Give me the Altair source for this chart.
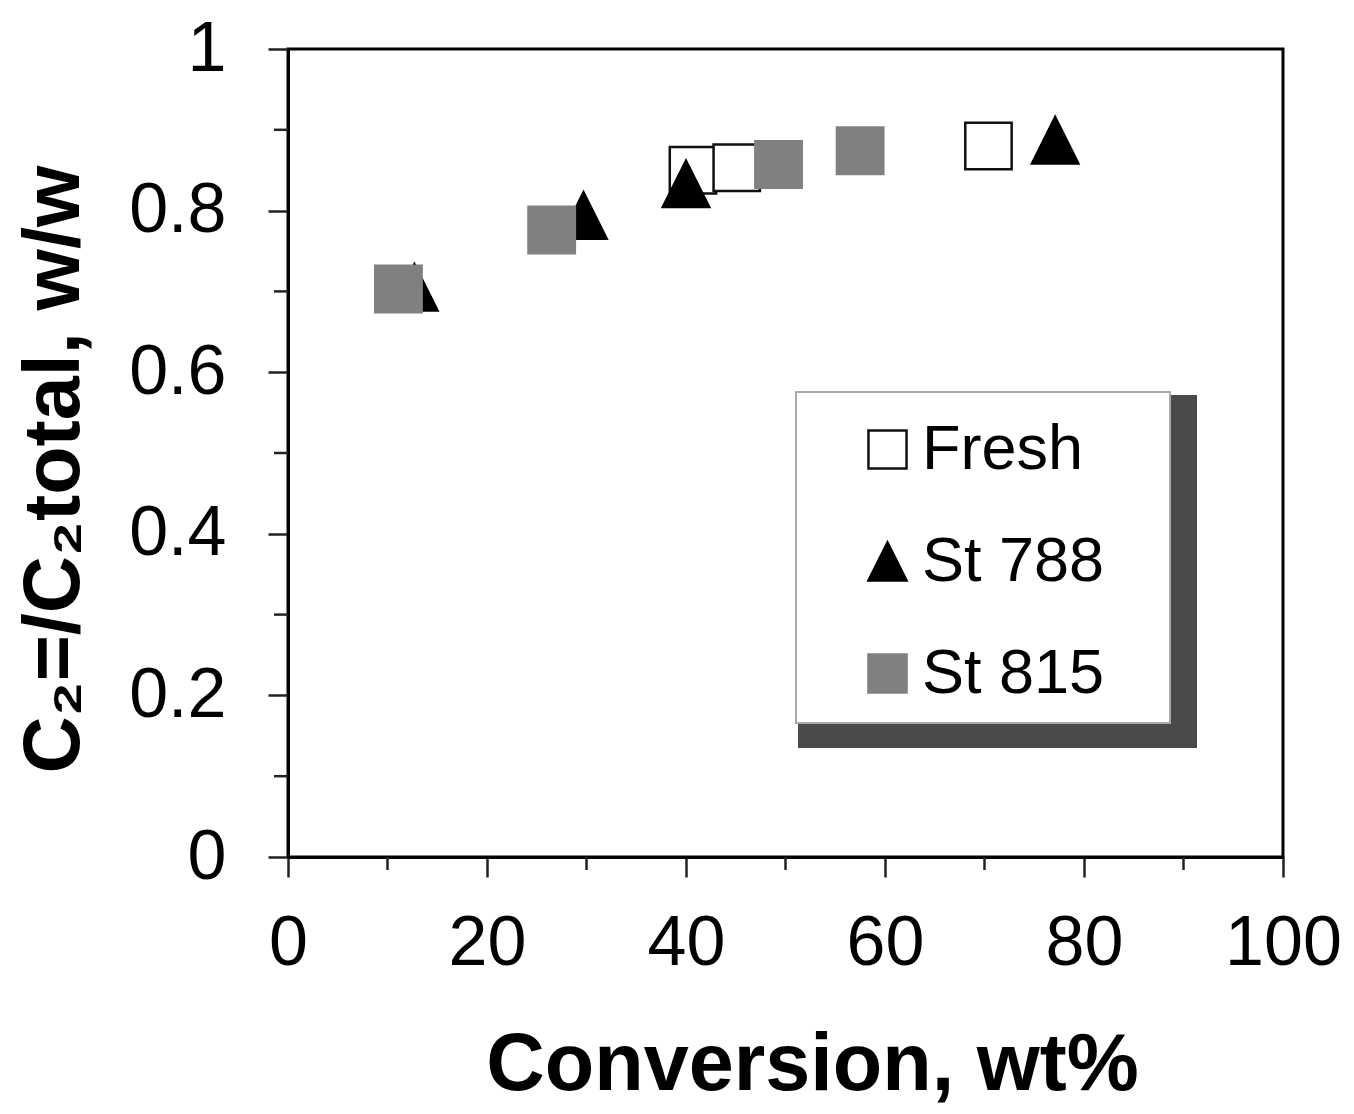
import altair as alt
import pandas as pd

# ---- data ----
series_names = ["Fresh", "St 788", "St 815"]
fresh_x = [40.7, 45.1, 70.4]
fresh_y = [0.850, 0.853, 0.880]
st788_x = [12.7, 29.7, 40.0, 77.1]
st788_y = [0.705, 0.794, 0.833, 0.887]
st815_x = [11.1, 26.5, 49.3, 57.5]
st815_y = [0.703, 0.776, 0.857, 0.874]

x_major = [0, 20, 40, 60, 80, 100]
x_minor = [10, 30, 50, 70, 90]
y_major = [0, 0.2, 0.4, 0.6, 0.8, 1]
y_minor = [0.1, 0.3, 0.5, 0.7, 0.9]

rows = []
for name, xs, ys in zip(series_names, [fresh_x, st788_x, st815_x], [fresh_y, st788_y, st815_y]):
    for a, b in zip(xs, ys):
        rows.append({"series": name, "x": a, "y": b})
df = pd.DataFrame(rows)

W, H = 995, 808
FONT = "Liberation Sans"
TRI = "M0,-1L1,1L-1,1Z"

xscale = alt.Scale(domain=[0, 100], nice=False, zero=False)
yscale = alt.Scale(domain=[0, 1], nice=False, zero=False)

legend = alt.Legend(
    title=None, orient="none", legendX=568, legendY=369,
    labelFontSize=63, labelFont=FONT, labelColor="black", labelLimit=500,
    symbolSize=1450, symbolStrokeWidth=2.5, labelOffset=3,
    padding=0, rowPadding=48, symbolOpacity=1,
)

xaxis = alt.Axis(
    values=x_major, tickSize=20, tickWidth=2.5, tickColor="#222",
    labelFontSize=70, labelFont=FONT, labelColor="black", labelPadding=32,
    labelFlush=False, labelOverlap=False,
    domainColor="black", domainWidth=3, grid=False,
    title="Conversion, wt%", titleFont=FONT, titleFontSize=81, titleFontWeight="bold",
    titleColor="black", titleX=524, titleY=232, titleBaseline="alphabetic", titleAlign="center",
)
yaxis = alt.Axis(
    values=y_major, format="~g", tickSize=20, tickWidth=2.5, tickColor="#222",
    labelFontSize=70, labelFont=FONT, labelColor="black", labelPadding=42,
    labelFlush=False, labelOverlap=False,
    domainColor="black", domainWidth=3, grid=False,
    title="C\u2082=/C\u2082total, w/w", titleFont=FONT, titleFontSize=79, titleFontWeight="bold",
    titleColor="black", titleX=-210, titleY=420, titleBaseline="alphabetic", titleAlign="center",
    titleAngle=270,
)

one = pd.DataFrame({"a": [0]})

shadow = alt.Chart(one).mark_rect(color="#4a4a4a").encode(
    x=alt.value(510), x2=alt.value(909), y=alt.value(346), y2=alt.value(699)
)
box = alt.Chart(one).mark_rect(fill="white", stroke="#aaaaaa", strokeWidth=2).encode(
    x=alt.value(508), x2=alt.value(882), y=alt.value(343), y2=alt.value(674)
)

xminor = alt.Chart(pd.DataFrame({"x": x_minor})).mark_rule(color="#222", strokeWidth=2.5).encode(
    x=alt.X("x:Q", scale=xscale, axis=xaxis), y=alt.value(H), y2=alt.value(H + 13)
)
yminor = alt.Chart(pd.DataFrame({"y": y_minor})).mark_rule(color="#222", strokeWidth=2.5).encode(
    y=alt.Y("y:Q", scale=yscale, axis=yaxis), x=alt.value(0), x2=alt.value(-14)
)

points = alt.Chart(df).mark_point(filled=True, size=2150, strokeWidth=2.5, opacity=1).encode(
    x=alt.X("x:Q", scale=xscale, axis=xaxis),
    y=alt.Y("y:Q", scale=yscale, axis=yaxis),
    shape=alt.Shape("series:N", scale=alt.Scale(domain=series_names, range=["square", TRI, "square"]), legend=legend),
    fill=alt.Fill("series:N", scale=alt.Scale(domain=series_names, range=["white", "black", "#808080"]), legend=legend),
    stroke=alt.Stroke("series:N", scale=alt.Scale(domain=series_names, range=["#111111", "black", "#808080"]), legend=legend),
)

chart = alt.layer(shadow, box, xminor, yminor, points).properties(
    width=W, height=H,
    autosize=alt.AutoSizeParams(type="none"),
    padding={"left": 280, "top": 41, "right": 60, "bottom": 249},
    background="white",
).configure_view(stroke="black", strokeWidth=3)

chart.save("out.html", embed_options={"renderer": "svg", "actions": False})
